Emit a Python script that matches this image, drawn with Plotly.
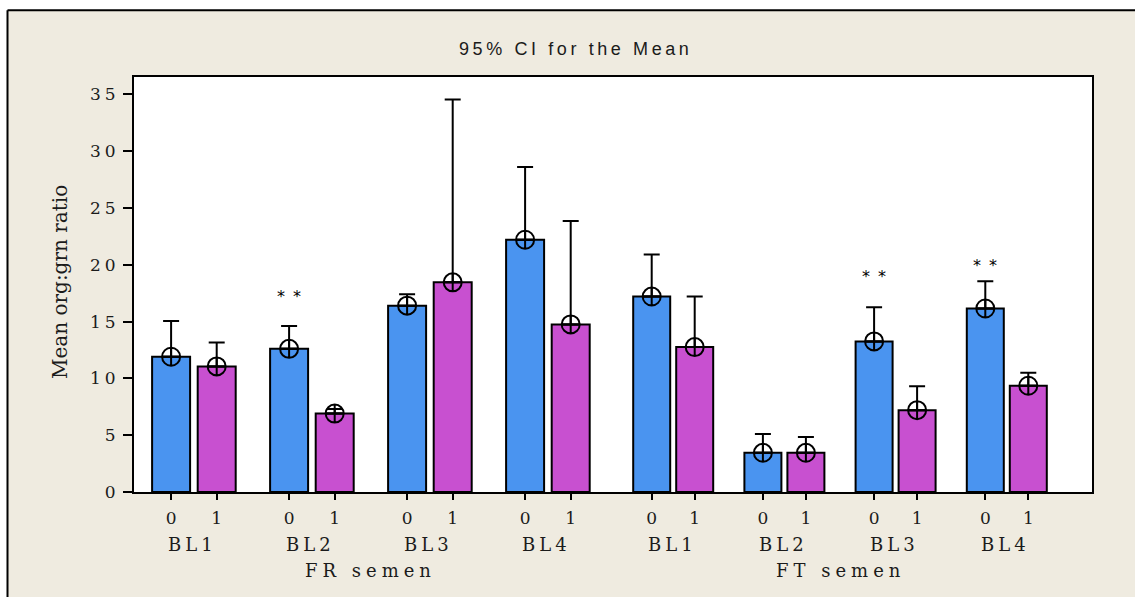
import plotly.graph_objects as go

# ---- data -----------------------------------------------------------------
panels = ["FR semen", "FT semen"]
lines = ["BL1", "BL2", "BL3", "BL4"]
group_labels = ["0", "1"]

# mean org:grn ratio and upper 95% CI limit, cells ordered FR BL1..BL4, FT BL1..BL4
mean_0 = [11.9, 12.6, 16.4, 22.2, 17.2, 3.45, 13.25, 16.15]
upper_0 = [15.05, 14.6, 17.4, 28.6, 20.9, 5.1, 16.25, 18.55]
mean_1 = [11.05, 6.9, 18.45, 14.75, 12.75, 3.45, 7.2, 9.35]
upper_1 = [13.15, 7.3, 34.55, 23.85, 17.2, 4.85, 9.3, 10.5]

# cells marked as significant (index into the cell order) and marker heights
star_cells = [1, 6, 7]
star_y = [17.6, 19.3, 20.3]

y_ticks = [0, 5, 10, 15, 20, 25, 30, 35]

# ---- layout constants -------------------------------------------------------
W, H = 1135, 597
M_L, M_R, M_T, M_B = 134, 43, 77, 105
PW, PH = W - M_L - M_R, H - M_T - M_B

PANEL_START = [59.9, 539.2]   # centre of the first cell in each panel
GROUP = [118.0, 111.2]        # distance between neighbouring cells per panel
PAIR = [45.6, 43.0]           # distance between the 0 and 1 bars per panel
BAR_W = [38.0, 37.0]

BLUE = "#4A94F0"
MAGENTA = "#C850D0"
BEIGE = "#EFEBE0"
INK = "#1b1b1b"
SERIF = "DejaVu Serif"


def spaced(text, px):
    return f'<span style="letter-spacing:{px}px">{text}</span>'


def xp(px):
    return (px - M_L) / PW


def yp(py):
    return (H - M_B - py) / PH


n_lines = len(lines)
n_cells = len(panels) * n_lines
panel_of = [k // n_lines for k in range(n_cells)]
centers = [PANEL_START[panel_of[k]] + (k % n_lines) * GROUP[panel_of[k]] for k in range(n_cells)]
x0 = [c - PAIR[panel_of[k]] / 2 for k, c in enumerate(centers)]
x1 = [c + PAIR[panel_of[k]] / 2 for k, c in enumerate(centers)]
widths = [BAR_W[panel_of[k]] for k in range(n_cells)]

fig = go.Figure()

for xs, means, color in [(x0, mean_0, BLUE), (x1, mean_1, MAGENTA)]:
    fig.add_trace(go.Bar(
        x=xs, y=means, width=widths,
        marker=dict(color=color, line=dict(color="black", width=2)),
        showlegend=False, hoverinfo="skip",
    ))

for xs, means, uppers in [(x0, mean_0, upper_0), (x1, mean_1, upper_1)]:
    fig.add_trace(go.Scatter(
        x=xs, y=means, mode="markers",
        marker=dict(symbol="circle-cross-open", size=18, color="black",
                    line=dict(color="black", width=2)),
        error_y=dict(type="data", symmetric=False,
                     array=[u - m for u, m in zip(uppers, means)],
                     arrayminus=[0] * len(means),
                     thickness=2, width=8, color="black"),
        showlegend=False, hoverinfo="skip",
    ))

annotations = []

# BL line labels under each cell
for k, c in enumerate(centers):
    annotations.append(dict(
        x=c, xref="x", y=0, yref="paper", yshift=-52, xshift=-1,
        text=spaced(lines[k % n_lines], 4), showarrow=False,
        xanchor="center", yanchor="middle",
        font=dict(family=SERIF, size=18, color=INK),
    ))

# panel labels
for p, name in enumerate(panels):
    cs = centers[p * n_lines:(p + 1) * n_lines]
    annotations.append(dict(
        x=sum(cs) / len(cs), xref="x", y=0, yref="paper", yshift=-78, xshift=0,
        text=spaced(name, 5), showarrow=False,
        xanchor="center", yanchor="middle",
        font=dict(family=SERIF, size=18, color=INK),
    ))

# significance stars
for k, sy in zip(star_cells, star_y):
    annotations.append(dict(
        x=x0[k], xref="x", y=sy, yref="y", xshift=4, yshift=-4,
        text=spaced("**", 8), showarrow=False,
        xanchor="center", yanchor="middle",
        font=dict(family="DejaVu Sans", size=16, color="black"),
    ))

# title
annotations.append(dict(
    x=xp(576), xref="paper", y=yp(49), yref="paper",
    text=spaced("95% CI for the Mean", 3.6), showarrow=False,
    xanchor="center", yanchor="middle",
    font=dict(family="Liberation Sans", size=18, color=INK),
))

# y axis title
annotations.append(dict(
    x=xp(60), xref="paper", y=yp(282), yref="paper",
    text="Mean org:grn ratio", textangle=-90, showarrow=False,
    xanchor="center", yanchor="middle",
    font=dict(family=SERIF, size=20, color=INK),
))

shapes = [
    # white surround above and left of the chart frame
    dict(type="rect", xref="paper", yref="paper", x0=xp(0) - 0.01, x1=xp(W) + 0.01,
         y0=yp(10), y1=yp(0) + 0.01, fillcolor="white", line=dict(width=0), layer="below"),
    dict(type="rect", xref="paper", yref="paper", x0=xp(0) - 0.01, x1=xp(7.5),
         y0=yp(H) - 0.01, y1=yp(0) + 0.01, fillcolor="white", line=dict(width=0), layer="below"),
    # frame lines
    dict(type="line", xref="paper", yref="paper", x0=xp(7.5), x1=xp(W) + 0.01,
         y0=yp(10.3), y1=yp(10.3), line=dict(color="black", width=2)),
    dict(type="line", xref="paper", yref="paper", x0=xp(7.5), x1=xp(7.5),
         y0=yp(H) - 0.01, y1=yp(10.3), line=dict(color="black", width=2)),
]

fig.update_layout(
    width=W, height=H,
    margin=dict(l=M_L, r=M_R, t=M_T, b=M_B, autoexpand=False),
    paper_bgcolor=BEIGE, plot_bgcolor="white",
    barmode="overlay",
    annotations=annotations, shapes=shapes,
    xaxis=dict(
        range=[0, PW], showgrid=False, zeroline=False,
        tickvals=x0 + x1,
        ticktext=[group_labels[0]] * n_cells + [group_labels[1]] * n_cells,
        ticks="outside", ticklen=6, tickwidth=1.5, tickcolor="black",
        ticklabelstandoff=4,
        tickfont=dict(family=SERIF, size=17, color=INK),
        showline=True, linecolor="black", linewidth=2, mirror=True,
    ),
    yaxis=dict(
        range=[0, 36.52], showgrid=False, zeroline=False,
        tickvals=y_ticks, ticktext=[spaced(str(v), 4) for v in y_ticks],
        ticks="outside", ticklen=9, tickwidth=1.5, tickcolor="black",
        tickfont=dict(family=SERIF, size=17, color=INK),
        showline=True, linecolor="black", linewidth=2, mirror=True,
    ),
)

fig.write_html("out.html")
